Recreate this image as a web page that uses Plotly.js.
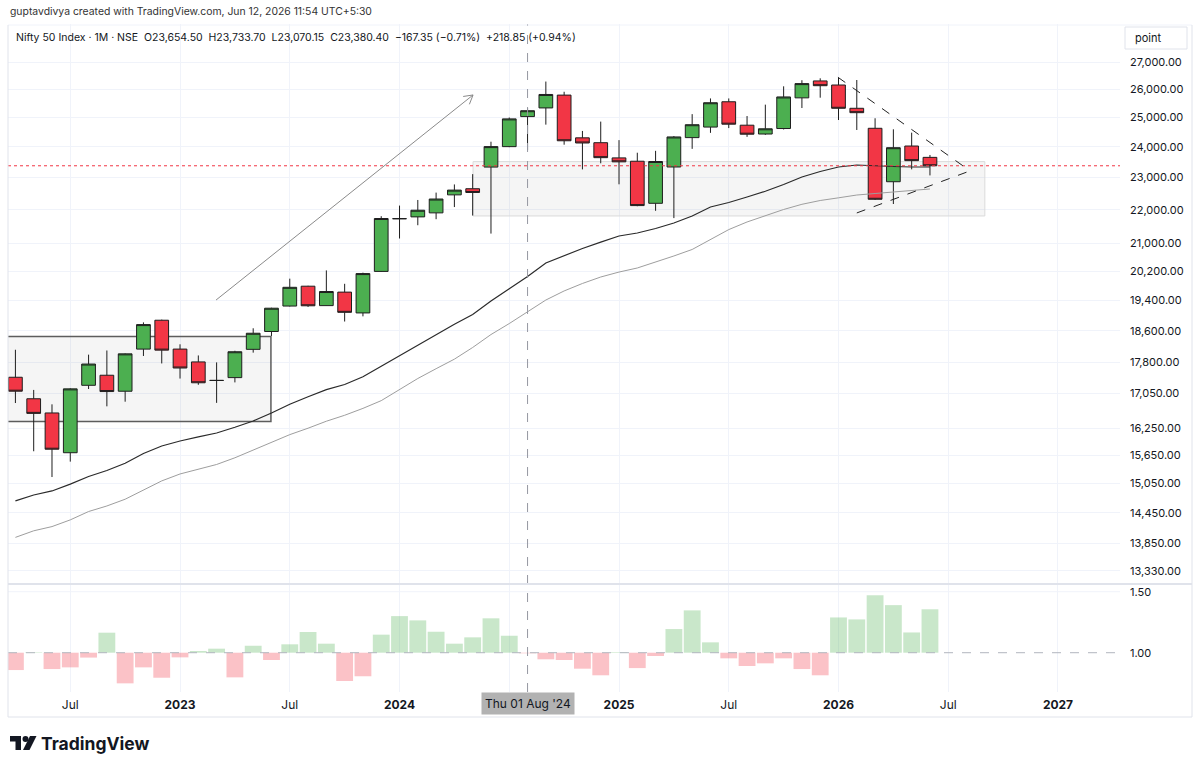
<!DOCTYPE html>
<html><head><meta charset="utf-8">
<script src="https://cdn.plot.ly/plotly-3.0.1.min.js"></script>
<style>html,body{margin:0;padding:0;background:#fff;} #chart{width:1200px;height:769px;}</style>
</head><body><div id="chart"></div>
<script>
const months = ['2022-04','2022-05','2022-06','2022-07','2022-08','2022-09','2022-10','2022-11','2022-12',
 '2023-01','2023-02','2023-03','2023-04','2023-05','2023-06','2023-07','2023-08','2023-09','2023-10','2023-11','2023-12',
 '2024-01','2024-02','2024-03','2024-04','2024-05','2024-06','2024-07','2024-08','2024-09','2024-10','2024-11','2024-12',
 '2025-01','2025-02','2025-03','2025-04','2025-05','2025-06','2025-07','2025-08','2025-09','2025-10','2025-11','2025-12',
 '2026-01','2026-02','2026-03','2026-04','2026-05','2026-06'];
const openP = [17436.9,16924.45,16594.4,15703.7,17243.2,17485.7,17102.1,18130.7,18871.95,
 18131.7,17811.6,17360.1,17427.95,18124.8,18579.4,19246.5,19784.0,19258.15,19622.4,19064.05,20194.1,
 21727.75,21780.65,21901.95,22455.55,22648.2,23337.9,24009.5,25030.95,25333.6,25788.45,24304.35,24140.85,
 23637.65,23528.6,22194.55,23341.1,24311.3,24669.7,25551.35,24734.3,24432.7,24620,25690,26300,
 26152,25321,24628,22869,24030,23654.5];
const highP = [18114.65,17132.85,16793.85,17172.8,17992.2,18096.15,18022.8,18816.05,18887.6,
 18251.95,17972.2,17799.95,18089.15,18662.45,19201.7,19991.85,19795.6,20222.45,19849.75,20158.7,21801.45,
 22124.15,22297.5,22526.6,22783.35,23110.8,24174.0,24999.75,25333.65,26277.35,25907.6,24537.6,24857.75,
 24226.7,23807.3,23869.6,24365.45,25116.25,25669.35,25669.05,25050,25448.95,26104.2,26325.8,26396,
 26420,26334,24973,24594,24479,23733.7];
const lowP = [16824.7,15735.75,15183.4,15511.05,17154.8,16747.7,16855.55,17959.2,17774.25,
 17405.55,17255.2,16828.35,17312.75,18042.4,18464.55,19234.4,19223.65,19255.7,18837.85,18973.7,20183.7,
 21137.2,21530.2,21710.2,22079.45,21821.05,21281.45,23992.7,23893.7,24753.15,24073.9,23263.15,23460.45,
 22786.9,22104.85,21964.6,21743.65,23935.75,24473.0,24635.0,24337.5,24404.7,24587.7,25330,25696,
 24912,24570,22297,22173,23265,23070.15];
const closeP = [17102.55,16584.55,15780.25,17158.25,17759.3,17094.35,18012.2,18758.35,18105.3,
 17662.15,17303.95,17359.75,18065.0,18534.4,19189.05,19753.8,19253.8,19638.3,19079.6,20133.15,21731.4,
 21725.7,21982.8,22326.9,22604.85,22530.7,24010.6,24951.15,25235.9,25810.85,24205.35,24131.1,23644.8,
 23508.4,22124.7,23519.35,24334.2,24750.7,25517.05,24768.35,24426.85,24611.1,25722.1,26202.95,26127,
 25321,25167,22319,23974,23547.75,23380.4];
const maBlack = [14688,14810,14893,15034,15194,15321,15476,15688,15851,15962,16051,16140,16268,16411,16595,16795,16971,17141,17263,17448,17706,17971,18231,18496,18769,19025,19381,19712,20053,20432,20645,20847,21033,21211,21298,21433,21597,21808,22081,22219,22391,22569,22781,23020,23196,23341,23406,23374,23357,23341,23341];
const maGray = [13964,14092,14175,14307,14474,14586,14723,14914,15102,15248,15341,15450,15594,15763,15916,16103,16247,16405,16541,16700,16880,17150,17407,17645,17880,18172,18501,18785,19089,19408,19654,19859,20038,20176,20290,20453,20631,20818,21110,21400,21627,21808,22005,22164,22281,22364,22451,22498,22545,22599,22640];
const ratio = [0.858,1.004,0.866,0.88,0.96,1.164,0.749,0.88,0.795,0.962,1.014,1.033,0.798,1.057,0.94,1.069,1.17,1.074,0.768,0.807,1.148,1.30,1.265,1.172,1.074,1.126,1.282,1.139,0.995,0.946,0.94,0.869,0.815,1.005,0.874,0.973,1.194,1.347,1.085,0.954,0.891,0.913,0.954,0.866,0.815,1.289,1.273,1.472,1.39,1.166,1.356];
const priceTicks = [27000,26000,25000,24000,23000,22000,21000,20200,19400,18600,17800,17050,16250,15650,15050,14450,13850,13330];
const timeTicks = ['2022-07','2023-01','2023-07','2024-01','2024-07','2025-01','2025-07','2026-01','2026-07','2027-01'];
const timeTickText = ['Jul','<b>2023</b>','Jul','<b>2024</b>','','<b>2025</b>','Jul','<b>2026</b>','Jul','<b>2027</b>'];
const lastClose = 23380.4;

function idx(m){const [y,mo]=m.split('-').map(Number);return (y-2022)*12+(mo-4);}
const X = months.map(idx);
const L=8,R=1120,T=24,B=692;
const px = v => (v-L)/(R-L);
const py = v => (B-v)/(B-T);
const lg = Math.log10;
const fmt = v => v.toLocaleString('en-US',{minimumFractionDigits:2,maximumFractionDigits:2});
const FONT = 'Inter, "Noto Sans", sans-serif';
const TXT = '#131722';

const traces = [
 {type:'scatter',mode:'lines',x:X,y:maGray,line:{color:'#9e9e9e',width:1},hoverinfo:'skip'},
 {type:'scatter',mode:'lines',x:X,y:maBlack,line:{color:'#2a2a2a',width:1.2},hoverinfo:'skip'},
 {type:'candlestick',x:X,open:openP,high:highP,low:lowP,close:closeP,whiskerwidth:0,
  increasing:{fillcolor:'#4caf50',line:{color:'#1e1e1e',width:1}},
  decreasing:{fillcolor:'#f23645',line:{color:'#1e1e1e',width:1}},hoverinfo:'skip'},
 {type:'bar',x:X,y:ratio.map(v=>v-1),base:1,yaxis:'y2',
  marker:{color:ratio.map(v=>v>=1?'rgba(76,175,80,0.3)':'rgba(242,54,69,0.3)'),line:{width:0}},hoverinfo:'skip'}
];

const lineC='#e0e3eb';
const shapes = [
 // boxes (data values on the log axis)
 {type:'rect',xref:'x',yref:'y',x0:-0.6,x1:13.97,y0:16400,y1:18450,fillcolor:'rgba(0,0,0,0.04)',line:{color:'#5d5d5d',width:1.5},layer:'between'},
 {type:'rect',xref:'x',yref:'y',x0:25.02,x1:53.0,y0:21808,y1:23515,fillcolor:'rgba(0,0,0,0.04)',line:{color:'#dadada',width:1},layer:'between'},
 // last price dotted
 {type:'line',xref:'paper',yref:'y',x0:0,x1:1,y0:lastClose,y1:lastClose,line:{color:'#f23645',width:1,dash:'dot'}},
 // arrow
 {type:'line',xref:'x',yref:'y',x0:10.97,y0:19408,x1:25.02,y1:25793,line:{color:'#8a8a8a',width:1}},
 {type:'line',xref:'x',yref:'y',x0:25.02,y0:25793,x1:24.48,y1:25739,line:{color:'#8a8a8a',width:1}},
 {type:'line',xref:'x',yref:'y',x0:25.02,y0:25793,x1:24.82,y1:25461,line:{color:'#8a8a8a',width:1}},
 // triangle
 {type:'line',xref:'x',yref:'y',x0:44.97,y0:26434,x1:51.97,y1:23309,line:{color:'#222',width:1,dash:'dash'}},
 {type:'line',xref:'x',yref:'y',x0:46.0,y0:21900,x1:52.03,y1:23180,line:{color:'#222',width:1,dash:'dash'}},
 // crosshair
 {type:'line',xref:'x',yref:'paper',x0:28,x1:28,y0:0,y1:1,line:{color:'#9598a1',width:1,dash:'dash'}},
 // lower pane lines
 {type:'line',xref:'paper',yref:'y2',x0:0,x1:1,y0:1.5,y1:1.5,line:{color:'#f0f3fa',width:1},layer:'below'},
 {type:'line',xref:'paper',yref:'y2',x0:0,x1:1,y0:1,y1:1,line:{color:'#b2b5be',width:1,dash:'dash'}},
 // frame
 {type:'line',xref:'paper',yref:'paper',x0:px(8),x1:px(1192),y0:py(584),y1:py(584),line:{color:lineC,width:2}},
 {type:'line',xref:'paper',yref:'paper',x0:px(8),x1:px(1192),y0:py(717),y1:py(717),line:{color:lineC,width:1}},
 {type:'line',xref:'paper',yref:'paper',x0:px(8),x1:px(1192),y0:py(25),y1:py(25),line:{color:'#f0f3fa',width:1}},
 {type:'line',xref:'paper',yref:'paper',x0:px(8),x1:px(8),y0:py(25),y1:py(717),line:{color:lineC,width:1}},
 {type:'line',xref:'paper',yref:'paper',x0:px(1192),x1:px(1192),y0:py(25),y1:py(717),line:{color:lineC,width:1}},
 // point box
 {type:'rect',xref:'paper',yref:'paper',x0:px(1125),x1:px(1187),y0:py(49),y1:py(27),fillcolor:'#fff',line:{color:lineC,width:1}},
 // logo
 {type:'path',xref:'paper',yref:'paper',path:`M${px(10)},${py(736)} L${px(21)},${py(736)} L${px(21)},${py(750)} L${px(15.5)},${py(750)} L${px(15.5)},${py(741.5)} L${px(10)},${py(741.5)} Z`,fillcolor:TXT,line:{width:0}},
 {type:'circle',xref:'paper',yref:'paper',x0:px(22.5),x1:px(28.5),y0:py(742),y1:py(736),fillcolor:TXT,line:{width:0}},
 {type:'path',xref:'paper',yref:'paper',path:`M${px(30)},${py(736)} L${px(36.5)},${py(736)} L${px(29.5)},${py(750)} L${px(23)},${py(750)} Z`,fillcolor:TXT,line:{width:0}}
];

const annotations = [
 {xref:'paper',yref:'paper',x:px(8),y:py(12),xanchor:'left',yanchor:'middle',showarrow:false,
  text:'guptavdivya created with TradingView.com, Jun 12, 2026 11:54 UTC+5:30',font:{family:FONT,size:10.4,color:'#333'}},
 {xref:'paper',yref:'paper',x:px(14),y:py(37),xanchor:'left',yanchor:'middle',showarrow:false,
  text:'Nifty 50 Index · 1M · NSE  O23,654.50  H23,733.70  L23,070.15  C23,380.40  −167.35 (−0.71%)  +218.85 (+0.94%)',font:{family:FONT,size:10.5,color:TXT}},
 {xref:'paper',yref:'paper',x:px(1133),y:py(38),xanchor:'left',yanchor:'middle',showarrow:false,text:'point',font:{family:FONT,size:11,color:TXT}},
 {xref:'x',yref:'paper',x:28,y:py(703),xanchor:'center',yanchor:'middle',showarrow:false,text:"Thu 01 Aug '24",
  bgcolor:'#b2b2b2',borderpad:3,width:86,height:15,font:{family:FONT,size:12,color:TXT}},
 {xref:'paper',yref:'paper',x:px(39),y:py(743),xanchor:'left',yanchor:'middle',showarrow:false,text:'<b>TradingView</b>',font:{family:FONT,size:17.5,color:TXT}}
];

const layout = {
 width:1200,height:769,margin:{l:L,r:1200-R,t:T,b:769-B},paper_bgcolor:'#fff',plot_bgcolor:'#fff',
 showlegend:false,boxgap:0.25,boxgroupgap:0,bargap:0.08,hovermode:false,dragmode:false,
 font:{family:FONT,color:TXT},
 xaxis:{range:[-0.405,60.39],anchor:'y2',tickmode:'array',tickvals:timeTicks.map(idx),ticktext:timeTickText,
  showgrid:true,gridcolor:'#f0f3fa',zeroline:false,showline:false,ticks:'',ticklabelstandoff:4,
  tickfont:{family:FONT,size:12,color:TXT},rangeslider:{visible:false},fixedrange:true},
 yaxis:{domain:[py(583),1],type:'log',range:[lg(13108),lg(28461)],side:'right',anchor:'x',tickmode:'array',
  tickvals:priceTicks,ticktext:priceTicks.map(fmt),showgrid:true,gridcolor:'#f0f3fa',zeroline:false,showline:false,
  ticks:'',ticklabelstandoff:9,tickfont:{family:FONT,size:11,color:TXT},fixedrange:true},
 yaxis2:{domain:[0,py(585)],range:[0.678,1.555],side:'right',anchor:'x',tickmode:'array',tickvals:[1,1.5],
  ticktext:['1.00','1.50'],showgrid:false,zeroline:false,showline:false,ticks:'',ticklabelstandoff:9,
  tickfont:{family:FONT,size:11,color:TXT},fixedrange:true},
 shapes:shapes,annotations:annotations
};
Plotly.newPlot('chart',traces,layout,{displayModeBar:false,staticPlot:true});
</script></body></html>
